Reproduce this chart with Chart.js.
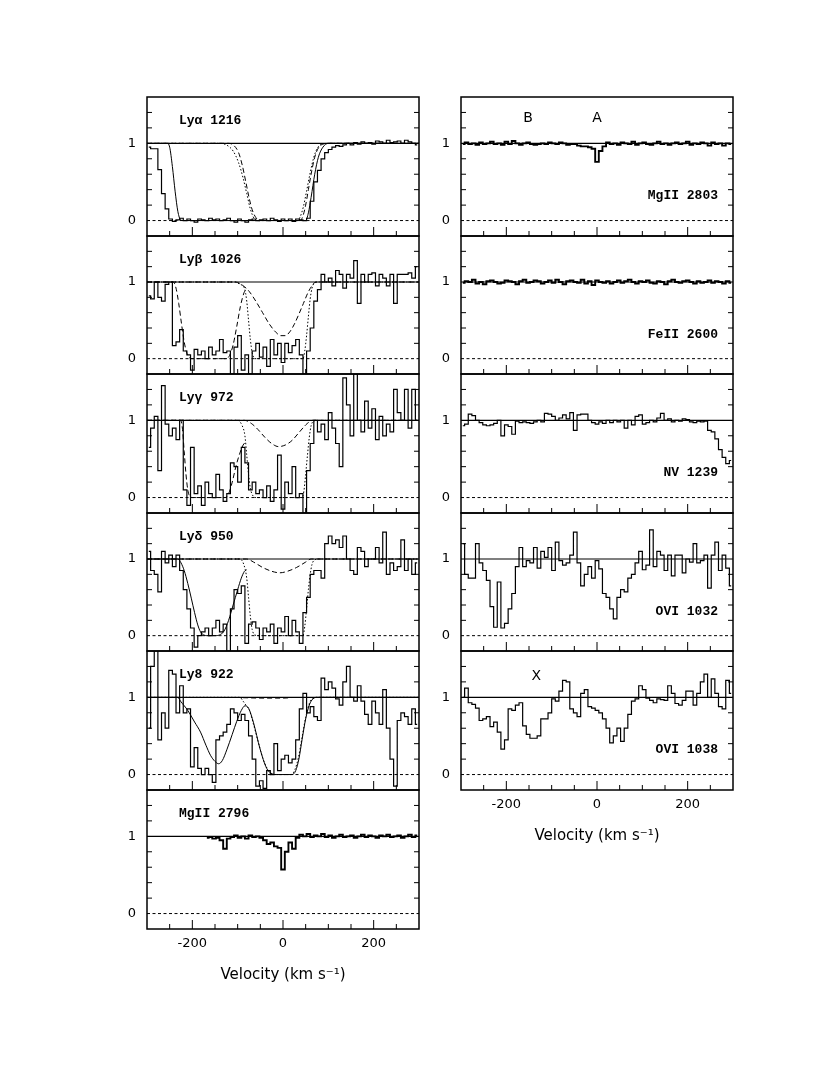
<!DOCTYPE html>
<html>
<head>
<meta charset="utf-8">
<script src="https://cdn.jsdelivr.net/npm/chart.js@4.4.1/dist/chart.umd.min.js"></script>
<style>
  body { margin: 0; background: #fff; width: 830px; height: 1075px; position: relative; overflow: hidden; }
  canvas { position: absolute; }
</style>
</head>
<body>
<script>
// bin centres in km/s: V0 + DV*i
const V0 = -296, DV = 8;
const MG2796_V0 = -168;

const X_LABELS = [-200, 0, 200];
const Y_LABELS = [0, 1];
const X_TICKS = [-250, -200, -150, -100, -50, 0, 50, 100, 150, 200, 250];
const Y_TICKS = [0.2, 0.4, 0.6, 0.8, 1.2, 1.4];

// ---- normalised flux, left column ----
const lyaFlux = [0.95, 0.93, 0.93, 0.66, 0.35, 0.15,
  0.02, -0.01, 0.01, 0.03, 0.0, 0.02, 0.0, -0.02, 0.02, 0.01,
  0.0, 0.03, 0.01, 0.02, 0.0, 0.01, 0.03, 0.0, -0.02, 0.02,
  0.0, -0.02, 0.01, 0.02, 0.0, 0.01, 0.02, 0.0, 0.03, 0.01,
  -0.01, 0.02, 0.0, 0.02, -0.01, 0.02, 0.01, 0.0, 0.03, 0.25,
  0.5, 0.65, 0.8, 0.88, 0.92, 0.95, 0.97, 0.96, 0.98, 1.0,
  0.98, 1.01, 0.99, 1.02, 1.0, 1.01, 0.99, 1.03, 1.02, 1.0,
  1.04, 1.01, 1.02, 1.03, 1.0, 1.04, 1.02, 1.0, 0.98];
const lybFlux = [0.82, 0.78, 1.0, 0.8, 0.75, 0.97, 1.0, 0.17, 0.22, 0.38,
  0.1, 0.05, -0.15, 0.12, 0.05, 0.1, 0.0, 0.15, 0.05, 0.1,
  0.25, 0.08, 0.1, -0.2, 0.15, 0.3, -0.15, 0.05, -0.2, 0.1,
  0.2, 0.02, 0.15, -0.1, 0.25, 0.05, 0.2, -0.05, 0.2, 0.08,
  0.17, 0.25, 0.05, -0.2, 0.1, 0.4, 0.75, 0.9, 1.1, 1.0,
  1.05, 0.95, 1.15, 1.1, 0.92, 1.1, 1.05, 1.28, 0.72, 1.1,
  1.0, 1.1, 1.12, 0.95, 1.1, 1.05, 0.95, 1.1, 0.72, 1.1,
  1.1, 1.1, 1.12, 1.05, 1.2];
const lygFlux = [0.65, 0.9, 1.05, 0.35, 1.45, 0.95, 0.8, 0.9, 0.75, 1.0,
  0.1, -0.1, 0.65, 0.05, 0.15, -0.1, 0.2, 0.05, 0.0, 0.3,
  0.1, -0.05, 0.05, 0.45, 0.4, 0.2, 0.65, 0.45, 0.1, 0.2,
  0.05, 0.1, 0.0, 0.15, -0.05, 0.1, 0.55, -0.15, 0.2, 0.05,
  0.4, 0.0, 0.05, -0.2, 0.35, 0.7, 1.0, 0.85, 0.95, 0.75,
  1.1, 0.9, 0.7, 0.4, 1.55, 1.2, 0.8, 1.6, 1.0, 0.85,
  1.25, 0.9, 1.15, 0.75, 1.05, 0.8, 0.95, 0.85, 1.4, 1.1,
  1.0, 1.4, 0.9, 1.4, 1.0];
const lydFlux = [1.1, 0.85, 0.8, 0.57, 1.1, 0.95, 1.05, 0.9, 1.05, 0.85,
  0.6, 0.35, 0.1, -0.15, 0.0, 0.05, 0.1, 0.0, 0.1, 0.2,
  0.05, 0.15, -0.2, 0.35, 0.6, 0.55, 0.65, -0.1, 0.15, 0.18,
  0.1, -0.05, 0.1, 0.05, 0.15, -0.1, 0.1, 0.05, 0.25, 0.0,
  0.2, 0.05, -0.1, 0.3, 0.5, 0.8, 0.85, 0.85, 0.75, 1.2,
  1.3, 1.2, 1.25, 1.15, 1.3, 1.0, 0.85, 0.8, 1.15, 1.1,
  0.9, 1.0, 1.0, 1.15, 0.95, 1.35, 0.8, 0.95, 0.85, 0.9,
  1.25, 0.85, 1.0, 0.8, 0.95];
const ly8Flux = [0.6, 1.4, 1.62, 0.45, 0.8, 0.6, 1.35, 1.3, 0.8, 1.15,
  0.8, 0.85, 0.1, 0.35, 0.08, 0.0, 0.08, 0.0, -0.1, 0.45,
  0.5, 0.55, 0.65, 0.85, 0.8, 0.7, 0.78, 0.7, 0.5, 0.2,
  -0.15, -0.08, -0.18, 0.05, 0.0, 0.4, 0.05, 0.2, 0.25, 0.15,
  0.2, 0.45, 0.85, 1.05, 0.8, 0.88, 0.75, 0.7, 1.25, 1.1,
  1.2, 1.12, 0.98, 0.9, 1.2, 1.4, 1.0, 0.95, 1.15, 0.95,
  0.78, 0.65, 0.95, 0.8, 0.65, 1.1, 0.6, 0.2, -0.15, 0.7,
  0.8, 0.75, 0.65, 0.85, 0.65];
const mg2796Flux = [0.98, 0.99, 0.97, 0.98, 0.95, 0.84, 0.97, 0.99, 1.01, 0.98,
  1.0, 0.97, 1.01, 0.99, 1.0, 0.98, 0.95, 0.9, 0.92, 0.87,
  0.85, 0.57, 0.8, 0.92, 0.84, 0.98, 1.02, 1.0, 1.03, 0.99,
  1.01, 1.0, 1.03, 0.99, 1.01, 0.98, 1.0, 1.02, 0.99, 1.0,
  1.01, 0.98, 1.0, 1.02, 0.99, 1.01, 1.0, 0.98, 1.01, 1.0,
  1.02, 0.99, 1.0, 1.01, 0.98, 1.0, 1.02, 0.99, 1.01];

// ---- normalised flux, right column ----
const mg2803Flux = [0.99, 1.01, 0.99, 1.0, 0.98, 1.01, 0.99, 1.0, 1.02, 0.99,
  1.0, 0.98, 1.02, 0.99, 1.03, 1.0, 0.98, 1.0, 1.01, 0.99,
  0.98, 0.99, 1.0, 0.99, 1.01, 1.0, 0.99, 1.01, 1.0, 0.98,
  0.99, 0.99, 0.97, 0.96, 0.96, 0.95, 0.93, 0.76, 0.9, 0.96,
  1.01, 0.99, 1.0, 0.98, 1.01, 1.0, 0.99, 1.02, 0.98, 1.0,
  1.01, 0.99, 0.98, 1.0, 1.02, 0.99, 1.0, 0.98, 1.0, 1.01,
  0.99, 1.0, 1.02, 0.98, 1.0, 0.99, 1.01, 1.0, 0.97, 1.01,
  0.99, 1.0, 0.97, 1.0, 0.99];
const fe2600Flux = [0.99, 1.01, 1.0, 1.03, 0.98, 1.0, 0.97, 1.01, 1.02, 1.0,
  0.98, 0.99, 1.02, 1.01, 1.0, 0.97, 1.01, 1.03, 0.99, 1.0,
  1.02, 1.01, 0.98, 1.0, 1.02, 0.99, 1.03, 1.0, 0.97, 1.01,
  1.02, 1.0, 0.99, 1.03, 0.98, 1.01, 0.96, 1.02, 1.0, 0.99,
  1.01, 0.98, 1.0, 1.02, 0.99, 1.01, 1.03, 1.0, 0.98, 1.01,
  1.0, 1.02, 0.99, 0.98, 1.01, 1.0, 0.97, 1.01, 1.03, 1.0,
  0.99, 1.01, 1.02, 1.0, 0.98, 1.01, 0.99, 1.0, 1.02, 0.99,
  1.01, 1.0, 0.98, 1.01, 0.99];
const nvFlux = [0.93, 0.95, 1.08, 1.06, 1.0, 0.97, 0.94, 0.93, 0.94, 0.96,
  1.0, 0.8, 0.94, 0.92, 0.82, 0.99, 0.97, 0.98, 0.97, 0.96,
  0.98, 1.0, 0.98, 1.09, 1.08, 1.05, 1.0, 1.03, 1.07, 1.02,
  1.1, 0.87, 1.07, 1.08, 1.08, 1.0, 0.97, 0.95, 0.98, 0.96,
  1.0, 0.97, 1.0, 0.98, 1.0, 0.9, 1.0, 0.94, 1.05, 1.07,
  0.95, 0.97, 1.0, 0.98, 1.03, 1.09, 1.0, 1.02, 0.98, 1.0,
  0.99, 1.02, 1.01, 0.98, 0.97, 0.99, 0.98, 0.99, 0.87, 0.85,
  0.76, 0.62, 0.52, 0.44, 0.48];
const ovi1032Flux = [1.2, 0.8, 0.75, 0.75, 1.2, 0.95, 0.85, 0.72, 0.38, 0.11,
  0.7, 0.1, 0.16, 0.35, 0.55, 0.9, 1.15, 0.9, 0.98, 0.95,
  1.15, 0.88, 1.1, 1.02, 1.15, 0.85, 1.22, 0.98, 0.92, 0.95,
  1.05, 1.35, 0.95, 0.65, 0.8, 0.9, 0.75, 0.98, 0.87, 0.55,
  0.5, 0.35, 0.22, 0.5, 0.6, 0.57, 0.75, 0.8, 0.95, 1.1,
  0.86, 0.92, 1.38, 0.9, 1.1, 1.05, 0.85, 1.05, 0.78, 1.05,
  1.05, 0.82, 1.0, 0.96, 1.2, 0.95, 0.98, 1.05, 0.62, 1.05,
  1.22, 0.85, 1.05, 0.88, 0.65];
const ovi1038Flux = [1.0, 1.12, 0.93, 0.91, 0.86, 0.7, 0.72, 0.75, 0.62, 0.68,
  0.55, 0.33, 0.45, 0.85, 0.83, 0.9, 0.93, 0.63, 0.52, 0.47,
  0.47, 0.5, 0.72, 0.72, 0.8, 0.98, 0.95, 1.08, 1.22, 1.2,
  0.85, 0.8, 0.75, 1.05, 1.1, 0.88, 0.86, 0.83, 0.8, 0.72,
  0.6, 0.41, 0.5, 0.6, 0.43, 0.6, 0.78, 0.95, 0.98, 1.15,
  1.1, 0.99, 0.96, 0.93, 0.98, 0.97, 0.96, 1.15, 1.05, 0.92,
  0.9, 0.96, 1.08, 1.08, 0.9, 1.05, 1.2, 1.3, 1.0, 1.24,
  1.05, 0.88, 0.85, 1.22, 1.05];

// ---- model profiles [velocity, flux] ----
const lyaFull = [[-300, 1], [-256, 1], [-250, 0.95], [-244, 0.7], [-238, 0.38], [-232, 0.12], [-226, 0.01], [-220, 0],
  [50, 0], [56, 0.1], [62, 0.3], [70, 0.6], [78, 0.82], [88, 0.95], [100, 1], [300, 1]];
const lyaDot = [[-300, 1], [-140, 1], [-125, 0.98], [-110, 0.9], [-98, 0.75], [-88, 0.55], [-80, 0.35], [-72, 0.15], [-64, 0.03], [-56, 0],
  [32, 0], [38, 0.05], [45, 0.18], [52, 0.38], [60, 0.62], [68, 0.82], [76, 0.94], [86, 0.99], [100, 1], [300, 1]];
const lyaDash = [[-300, 1], [-120, 1], [-108, 0.97], [-98, 0.88], [-90, 0.72], [-82, 0.5], [-75, 0.3], [-68, 0.14], [-60, 0.04], [-52, 0],
  [38, 0], [44, 0.06], [50, 0.2], [56, 0.4], [62, 0.6], [70, 0.82], [78, 0.94], [88, 0.99], [100, 1], [300, 1]];

const lybDashB = [[-300, 1], [-242, 1], [-236, 0.92], [-230, 0.72], [-224, 0.46], [-218, 0.22], [-212, 0.07], [-206, 0.01], [-200, 0],
  [-125, 0], [-118, 0.04], [-110, 0.18], [-102, 0.42], [-94, 0.68], [-86, 0.86], [-80, 0.92]];
const lybDot = [[-300, 1], [-105, 1], [-95, 0.97], [-85, 0.92], [-80, 0.75], [-76, 0.5], [-72, 0.25], [-68, 0.08], [-62, 0],
  [44, 0], [48, 0.1], [52, 0.3], [56, 0.55], [60, 0.78], [64, 0.92], [70, 0.99], [80, 1], [300, 1]];
const lybDashC = [[-300, 1], [-105, 1], [-90, 0.96], [-75, 0.88], [-60, 0.75], [-45, 0.6], [-30, 0.45], [-15, 0.34], [-5, 0.3],
  [5, 0.3], [15, 0.35], [25, 0.45], [35, 0.58], [45, 0.72], [55, 0.86], [65, 0.96], [72, 1], [300, 1]];

const lygDashB = [[-300, 1], [-226, 1], [-222, 0.9], [-218, 0.6], [-214, 0.3], [-210, 0.1], [-205, 0.01], [-200, 0],
  [-128, 0], [-120, 0.05], [-112, 0.2], [-104, 0.4], [-96, 0.56], [-88, 0.68], [-82, 0.72]];
const lygDot = [[-300, 1], [-100, 1], [-90, 0.93], [-84, 0.8], [-80, 0.55], [-76, 0.3], [-72, 0.12], [-66, 0.02], [-60, 0],
  [42, 0], [46, 0.08], [50, 0.3], [54, 0.55], [58, 0.78], [62, 0.93], [68, 0.99], [76, 1], [300, 1]];
const lygDashC = [[-300, 1], [-85, 1], [-70, 0.96], [-55, 0.88], [-40, 0.78], [-25, 0.7], [-10, 0.66], [5, 0.68],
  [20, 0.74], [35, 0.84], [50, 0.94], [58, 0.98], [65, 1], [300, 1]];

const lydFull = [[-300, 1], [-232, 1], [-225, 0.95], [-218, 0.85], [-210, 0.68], [-202, 0.48], [-195, 0.3], [-188, 0.14],
  [-182, 0.05], [-175, 0.01], [-168, 0], [-150, 0], [-140, 0.01], [-130, 0.06], [-120, 0.2], [-110, 0.4], [-100, 0.6],
  [-92, 0.75], [-85, 0.84], [-80, 0.86]];
const lydDot = [[-300, 1], [-95, 1], [-86, 0.92], [-80, 0.75], [-76, 0.5], [-72, 0.25], [-68, 0.08], [-62, 0.01], [-56, 0],
  [44, 0], [48, 0.12], [52, 0.35], [56, 0.6], [60, 0.8], [64, 0.93], [70, 0.99], [78, 1], [300, 1]];
const lydDashC = [[-300, 1], [-80, 1], [-65, 0.96], [-45, 0.89], [-25, 0.84], [-7, 0.82], [10, 0.84], [30, 0.89],
  [50, 0.96], [62, 1], [300, 1]];

const ly8Full = [[-300, 1], [-232, 1], [-226, 0.95], [-210, 0.83], [-195, 0.68], [-182, 0.55], [-170, 0.38], [-160, 0.25],
  [-150, 0.17], [-142, 0.14], [-134, 0.18], [-124, 0.32], [-112, 0.52], [-102, 0.69], [-92, 0.83], [-84, 0.89],
  [-76, 0.86], [-65, 0.67], [-51, 0.34], [-36, 0.08], [-24, 0.01], [-15, 0], [20, 0], [28, 0.05], [35, 0.2],
  [42, 0.45], [50, 0.72], [58, 0.9], [66, 0.98], [76, 1], [300, 1]];
const ly8Dot = [[-300, 1], [-95, 1], [-88, 0.95], [-82, 0.9], [-74, 0.83], [-65, 0.65], [-55, 0.43], [-45, 0.22],
  [-35, 0.08], [-25, 0.01], [-18, 0], [18, 0], [26, 0.06], [34, 0.22], [42, 0.48], [50, 0.74], [58, 0.92],
  [66, 0.99], [76, 1], [300, 1]];
const ly8Dash = [[-88, 0.995], [-40, 0.99], [0, 0.99], [18, 0.995]];

const panels = [
  { col: 0, row: 0, name: 'Lyα 1216', flux: lyaFlux, v0: V0,
    models: [[lyaFull, 'solid'], [lyaDot, 'dot'], [lyaDash, 'dash']] },
  { col: 0, row: 1, name: 'Lyβ 1026', flux: lybFlux, v0: V0,
    models: [[lybDashB, 'dash'], [lybDot, 'dot'], [lybDashC, 'dash']] },
  { col: 0, row: 2, name: 'Lyγ 972', flux: lygFlux, v0: V0,
    models: [[lygDashB, 'dash'], [lygDot, 'dot'], [lygDashC, 'dash']] },
  { col: 0, row: 3, name: 'Lyδ 950', flux: lydFlux, v0: V0,
    models: [[lydFull, 'solid'], [lydDot, 'dot'], [lydDashC, 'dash']] },
  { col: 0, row: 4, name: 'Ly8 922', flux: ly8Flux, v0: V0,
    models: [[ly8Full, 'solid'], [ly8Dot, 'dot'], [ly8Dash, 'dash']] },
  { col: 0, row: 5, name: 'MgII 2796', flux: mg2796Flux, v0: MG2796_V0, thick: true, bottom: true, models: [] },
  { col: 1, row: 0, name: 'MgII 2803', flux: mg2803Flux, v0: V0, thick: true, right: true, models: [],
    marks: [['B', -152, 1.32], ['A', 0, 1.32]] },
  { col: 1, row: 1, name: 'FeII 2600', flux: fe2600Flux, v0: V0, thick: true, right: true, models: [] },
  { col: 1, row: 2, name: 'NV 1239', flux: nvFlux, v0: V0, right: true, models: [] },
  { col: 1, row: 3, name: 'OVI 1032', flux: ovi1032Flux, v0: V0, right: true, models: [] },
  { col: 1, row: 4, name: 'OVI 1038', flux: ovi1038Flux, v0: V0, right: true, bottom: true, models: [],
    marks: [['X', -134, 1.27]] }
];

// page geometry of the plot frames
const COL_X = [147, 460.5];
const ROW_Y = [97, 236, 374, 513, 651, 790, 929];
const PLOT_W = 272;
const AXIS_W = 30, AXIS_H = 55, PAD = 26;

const DASHES = { solid: [], dot: [1.5, 2], dash: [5, 3] };

const framePlugin = {
  id: 'frame',
  afterDraw(chart, args, opts) {
    const { ctx, chartArea: a } = chart;
    const x = chart.scales.x, y = chart.scales.y;
    ctx.save();
    ctx.strokeStyle = '#000';
    ctx.lineWidth = 1;
    ctx.beginPath();
    X_TICKS.forEach(v => {
      const px = x.getPixelForValue(v);
      const len = X_LABELS.includes(v) ? 9 : 5;
      ctx.moveTo(px, a.bottom); ctx.lineTo(px, a.bottom - len);
    });
    Y_TICKS.forEach(v => {
      const py = y.getPixelForValue(v);
      ctx.moveTo(a.left, py); ctx.lineTo(a.left + 5, py);
      ctx.moveTo(a.right, py); ctx.lineTo(a.right - 5, py);
    });
    ctx.stroke();
    ctx.lineWidth = 1.5;
    ctx.strokeRect(a.left, a.top, a.right - a.left, a.bottom - a.top);

    ctx.fillStyle = '#000';
    ctx.font = 'bold 13px "Liberation Mono"';
    ctx.textBaseline = 'middle';
    if (opts.right) {
      ctx.textAlign = 'right';
      ctx.fillText(opts.name, a.right - 15, a.top + 99);
    } else {
      ctx.textAlign = 'left';
      ctx.fillText(opts.name, a.left + 32, a.top + 24);
    }
    ctx.font = '14px "DejaVu Sans"';
    ctx.textAlign = 'center';
    (opts.marks || []).forEach(([t, v, f]) => {
      ctx.fillText(t, x.getPixelForValue(v), y.getPixelForValue(f));
    });
    ctx.restore();
  }
};

const tickFont = { family: 'DejaVu Sans', size: 13 };

panels.forEach(p => {
  const top = ROW_Y[p.row], H = ROW_Y[p.row + 1] - top;
  const padB = p.bottom ? 0 : PAD;
  const w = AXIS_W + PLOT_W + 4;
  const h = PAD + H + padB + (p.bottom ? AXIS_H : 0);
  const canvas = document.createElement('canvas');
  canvas.width = w; canvas.height = h;
  canvas.style.width = w + 'px'; canvas.style.height = h + 'px';
  canvas.style.left = (COL_X[p.col] - AXIS_W) + 'px';
  canvas.style.top = (top - PAD) + 'px';
  document.body.appendChild(canvas);

  const datasets = [
    { data: [{ x: -300, y: 1 }, { x: 300, y: 1 }], borderColor: '#000', borderWidth: 1.2 },
    { data: [{ x: -300, y: 0 }, { x: 300, y: 0 }], borderColor: '#000', borderWidth: 1, borderDash: [3, 2.5] },
    { data: p.flux.map((f, i) => ({ x: p.v0 + DV * i, y: f })), borderColor: '#000',
      borderWidth: p.thick ? 1.9 : 1.2, stepped: 'middle' }
  ];
  p.models.forEach(([pts, style]) => {
    datasets.push({ data: pts.map(([v, f]) => ({ x: v, y: f })), borderColor: '#000',
      borderWidth: 1, borderDash: DASHES[style], cubicInterpolationMode: 'monotone' });
  });

  const chart = new Chart(canvas, {
    type: 'line',
    data: { datasets },
    options: {
      responsive: false, maintainAspectRatio: false, animation: false, devicePixelRatio: 1,
      layout: { padding: { top: PAD, bottom: padB, left: 0, right: 4 } },
      elements: { point: { radius: 0 }, line: { fill: false } },
      plugins: { legend: { display: false }, tooltip: { enabled: false },
        frame: { name: p.name, right: !!p.right, marks: p.marks } },
      scales: {
        x: { type: 'linear', min: -300, max: 300, display: !!p.bottom,
          afterBuildTicks: s => { s.ticks = X_LABELS.map(v => ({ value: v })); },
          ticks: { font: tickFont, color: '#000', padding: 7, maxRotation: 0, autoSkip: false },
          grid: { display: false, drawTicks: false }, border: { display: false },
          title: { display: true, text: 'Velocity (km s⁻¹)', color: '#000',
            font: { family: 'DejaVu Sans', size: 15 }, padding: { top: 4, bottom: 0 } },
          afterFit: s => { s.height = p.bottom ? AXIS_H : 0; } },
        y: { type: 'linear', min: -0.2, max: 1.6,
          afterBuildTicks: s => { s.ticks = Y_LABELS.map(v => ({ value: v })); },
          ticks: { font: tickFont, color: '#000', padding: 11, autoSkip: false },
          grid: { display: false, drawTicks: false }, border: { display: false },
          afterFit: s => { s.width = AXIS_W; } }
      }
    },
    plugins: [framePlugin]
  });

  // line the plot area up with the page frame
  const ca = chart.chartArea;
  canvas.style.left = (COL_X[p.col] - ca.left) + 'px';
  canvas.style.top = (top - ca.top) + 'px';
});
</script>
</body>
</html>
